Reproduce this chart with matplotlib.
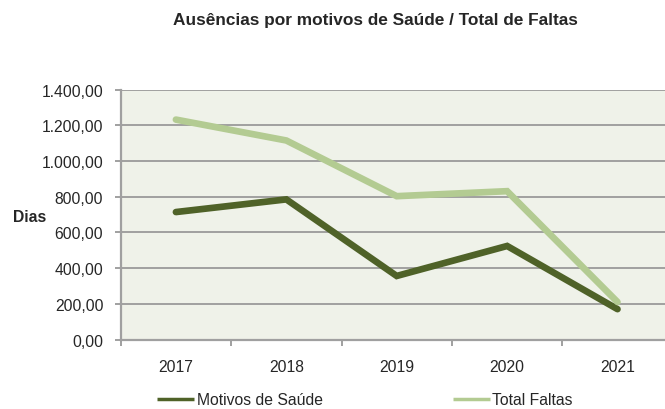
import matplotlib
matplotlib.use("Agg")
import matplotlib.pyplot as plt
from matplotlib.ticker import FuncFormatter, FixedLocator

plt.rcParams['font.family'] = ['Liberation Sans', 'DejaVu Sans']

anos = ['2017', '2018', '2019', '2020', '2021']
motivos_saude = [714, 785, 356, 524, 170]
total_faltas = [1232, 1115, 803, 831, 210]
y_ticks = [0, 200, 400, 600, 800, 1000, 1200, 1400]

cor_escura = '#4f6228'
cor_clara = '#b3cb92'
cor_grelha = '#a0a0a0'
cor_texto = '#262626'


def fmt_pt(v, pos):
    s = f'{v:,.2f}'
    return s.replace(',', 'X').replace('.', ',').replace('X', '.')


fig = plt.figure(figsize=(6.65, 4.10), dpi=100)
ax = fig.add_axes([0.1815, 0.1695, 0.8185, 0.6095])
ax.set_facecolor('#eff2e9')

x = list(range(len(anos)))
ax.plot(x, motivos_saude, color=cor_escura, lw=4.8, solid_capstyle='round',
        solid_joinstyle='miter', label='Motivos de Saúde', zorder=3)
ax.plot(x, total_faltas, color=cor_clara, lw=4.8, solid_capstyle='round',
        solid_joinstyle='miter', label='Total Faltas', zorder=3)

ax.set_xlim(-0.5, 4.43)
ax.set_ylim(0, 1400)
ax.set_yticks(y_ticks)
ax.yaxis.set_major_formatter(FuncFormatter(fmt_pt))
ax.set_xticks(x)
ax.set_xticklabels(anos)
ax.xaxis.set_minor_locator(FixedLocator([i - 0.5 for i in x] + [4.5]))

ax.grid(axis='y', color=cor_grelha, lw=1.4, zorder=1)
ax.set_axisbelow(True)
for lado in ['top', 'right']:
    ax.spines[lado].set_visible(False)
for lado in ['left', 'bottom']:
    ax.spines[lado].set_color(cor_grelha)
    ax.spines[lado].set_linewidth(1.6)

ax.tick_params(axis='y', length=4, width=1.4, color=cor_grelha, pad=8.5,
               labelsize=11.3, labelcolor=cor_texto)
ax.tick_params(axis='x', which='major', length=0, pad=14,
               labelsize=11.3, labelcolor=cor_texto)
ax.tick_params(axis='x', which='minor', length=4, width=1.4, color=cor_grelha)

fig.text(30 / 665, 1 - 218 / 410, 'Dias', fontsize=11.3, fontweight='bold',
         ha='center', va='center', color=cor_texto)

fig.text(375 / 665, 1 - 20 / 410, 'Ausências por motivos de Saúde / Total de Faltas',
         fontsize=12.4, fontweight='bold', ha='center', va='center', color=cor_texto)

leg = fig.legend(loc='center', bbox_to_anchor=(365 / 665, 1 - 401 / 410), ncol=2,
                 frameon=False, fontsize=11.3, handlelength=2.35, handletextpad=0.15,
                 columnspacing=8.3, borderpad=0, labelcolor=cor_texto)
for linha in leg.get_lines():
    linha.set_linewidth(2.5)
    linha.set_solid_capstyle('butt')

fig.savefig('out.png', dpi=100)
